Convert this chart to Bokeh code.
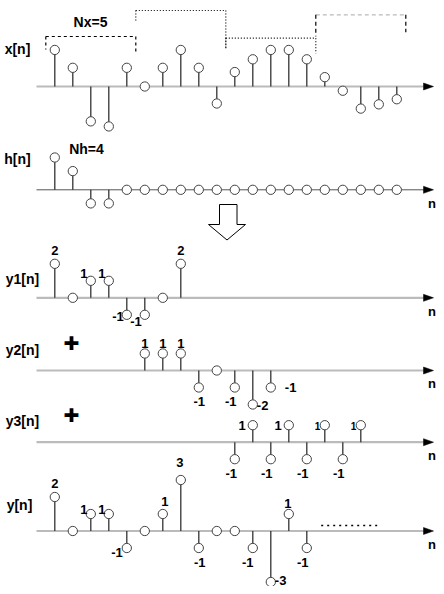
from bokeh.plotting import figure
from bokeh.models import Range1d
from bokeh.core.properties import value
from bokeh.embed import file_html
from bokeh.resources import INLINE

# ---------------- data ----------------
x_n = list(range(20))
x_vals = [2.15, 1.1, -2.05, -2.35, 1.1, 0, 1.1, 2.15, 1.1, -1.0,
          0.85, 1.6, 2.15, 2.15, 1.6, 0.55, -0.25, -1.3, -1.05, -0.75]
h_n = list(range(20))
h_vals = [1.9, 1.1, -0.8, -0.8] + [0] * 16
y1_n = list(range(0, 8))
y1_vals = [2, 0, 1, 1, -1, -1, 0, 2]
y2_n = list(range(5, 13))
y2_vals = [1, 1, 1, -1, 0, -1, -2, -1]
y3_n = list(range(10, 18))
y3_vals = [-1, 1, -1, 1, -1, 1, -1, 1]
y_n = list(range(0, 15))
y_vals = [2, 0, 1, 1, -1, 0, 1, 3, -1, 0, 0, -1, -3, 1, -1]

Nx = 5
names = ["x[n]", "h[n]", "y1[n]", "y2[n]", "y3[n]", "y[n]"]

# ---------------- layout helpers ----------------
W, H = 436, 586
PX0, DX = 54.3, 18.0      # pixel x of n=0 and pixels per sample
U = 17.0                  # pixels per value unit


def X(px):
    return (px - PX0) / DX


def Y(py):
    return (H - py) / U


base_py = [86, 189.3, 297.3, 370, 441.7, 530.5]
B = [Y(v) for v in base_py]

p = figure(width=W, height=H, output_backend="svg", toolbar_location=None,
           x_range=Range1d(X(0), X(W)), y_range=Range1d(Y(H), Y(0)),
           min_border=0, outline_line_color=None)
p.axis.visible = False
p.grid.visible = False
p.background_fill_color = "white"
p.border_fill_color = "white"

FONT = value("Liberation Sans")

# ---------------- axes ----------------
for i, b in enumerate(B):
    col = "#555555" if i == 1 else "#bbbbbb"
    lw = 1 if i == 1 else 2.2
    p.segment(x0=[X(36)], y0=[b], x1=[X(425)], y1=[b], line_color=col, line_width=lw)
    p.patch(x=[X(423), X(433), X(423)], y=[b + 3.5 / U, b, b - 3.5 / U],
            fill_color="black", line_color="black", line_width=0.5)

# n labels
n_lab_dy = [None, 14, 13.5, 12.5, 13.5, 13.5]
for i, b in enumerate(B):
    if n_lab_dy[i] is None:
        continue
    p.text(x=[X(431.5)], y=[b - n_lab_dy[i] / U], text=["n"], text_font=FONT,
           text_font_style="bold", text_font_size="13px", text_align="center",
           text_baseline="middle", text_color="black")

# ---------------- stems ----------------
series = [(x_n, x_vals), (h_n, h_vals), (y1_n, y1_vals), (y2_n, y2_vals),
          (y3_n, y3_vals), (y_n, y_vals)]
for (ns, vs), b in zip(series, B):
    ys = [b + v for v in vs]
    p.segment(x0=ns, y0=[b] * len(ns), x1=ns, y1=ys, line_color="#333333", line_width=1.3)
    p.scatter(x=ns, y=ys, size=9.3, marker="circle", fill_color="white",
              line_color="#444444", line_width=1)

# ---------------- names ----------------
name_px = [17, 17, 22, 22, 22, 19]
name_py = [48.5, 158, 278.5, 349.5, 420.5, 504]
p.text(x=[X(v) for v in name_px], y=[Y(v) for v in name_py], text=names,
       text_font=FONT, text_font_style="bold", text_font_size="14px",
       text_align="center", text_baseline="middle", text_color="black")

p.text(x=[X(90)], y=[Y(21)], text=["Nx=%d" % Nx], text_font=FONT, text_font_style="bold",
       text_font_size="14px", text_align="center", text_baseline="middle")
p.text(x=[X(86)], y=[Y(148.5)], text=["Nh=4"], text_font=FONT, text_font_style="bold",
       text_font_size="14px", text_align="center", text_baseline="middle")

# plus signs
for py in [342.5, 414]:
    p.text(x=[X(71)], y=[Y(py)], text=["\u271a"], text_font=value("DejaVu Sans"),
           text_font_size="19px", text_align="center", text_baseline="middle")

# ---------------- value labels ----------------
# (panel, n, dx px, dy px, align, size)
labels = [
    (2, 0, 0, -13, "center", 13), (2, 2, -7, -7, "center", 13), (2, 3, -7, -7, "center", 13),
    (2, 4, -3, 1.5, "right", 13), (2, 5, -3, 7, "right", 13), (2, 7, 0, -13, "center", 13),
    (3, 5, 0, -10.5, "center", 13), (3, 6, 0, -10.5, "center", 13), (3, 7, 0, -10.5, "center", 13),
    (3, 8, 0.5, 13.5, "center", 13), (3, 10, -4, 13.5, "center", 13),
    (3, 11, 4, 0.5, "left", 13), (3, 12, 14, 0, "left", 13),
    (4, 11, -7, 0.5, "right", 13), (4, 13, -7, 0.5, "right", 13),
    (4, 15, -4.5, 0.5, "right", 10), (4, 17, -4.5, 0.5, "right", 10),
    (4, 10, -3.5, 14, "center", 13), (4, 12, -4, 14, "center", 13),
    (4, 14, -4, 14, "center", 13), (4, 16, -4, 14, "center", 13),
    (5, 0, 0, -14, "center", 13), (5, 2, -7, -5, "center", 13), (5, 3, -7, -5, "center", 13),
    (5, 4, -4, 4, "right", 13), (5, 6, 2, -13, "center", 13), (5, 7, -1, -18, "center", 13),
    (5, 8, 1, 14, "center", 13), (5, 11, -5, 14, "center", 13),
    (5, 12, 4, -2, "left", 13), (5, 13, -1, -11, "center", 13), (5, 14, -4, 14, "center", 13),
]
for panel, n, dx, dy, align, size in labels:
    ns, vs = series[panel]
    v = vs[ns.index(n)]
    txt = "%d" % v
    p.text(x=[n + dx / DX], y=[B[panel] + v - dy / U], text=[txt], text_font=FONT,
           text_font_style="bold", text_font_size="%dpx" % size, text_align=align,
           text_baseline="middle", text_color="black")

# ---------------- block boxes over x[n] ----------------
# (top py, left-bottom py, right-bottom py, dash, top colour, side colour)
boxes = [
    (36, 49, 51, "3 3", "black", "black"),
    (10, 22, 49, "1 2", "black", "black"),
    (37.7, 49, 53, "1 2", "black", "black"),
    (14.3, 36, 31.7, "4 3", "#bbbbbb", "black"),
]
for k, (top, lb, rb, dash, tcol, scol) in enumerate(boxes):
    x0 = k * Nx - 0.5
    x1 = x0 + Nx
    p.line(x=[x0, x1], y=[Y(top), Y(top)], line_dash=dash, line_color=tcol, line_width=1.2)
    p.line(x=[x0, x0], y=[Y(top), Y(lb)], line_dash=dash, line_color=scol, line_width=1.2)
    p.line(x=[x1, x1], y=[Y(top), Y(rb)], line_dash=dash, line_color=scol, line_width=1.2)

# ---------------- big down arrow ----------------
ax = [219, 236.5, 236.5, 245, 226.5, 208, 219]
ay = [204, 204, 224, 224, 239.5, 224, 224]
p.patch(x=[X(v) for v in ax], y=[Y(v) for v in ay], fill_color="white",
        line_color="black", line_width=1)

# ---------------- continuation dots ----------------
p.line(x=[X(320.7), X(377)], y=[Y(525), Y(525)], line_dash="2 4",
       line_color="black", line_width=1.5)

open("out.html", "w").write(file_html(p, INLINE))
